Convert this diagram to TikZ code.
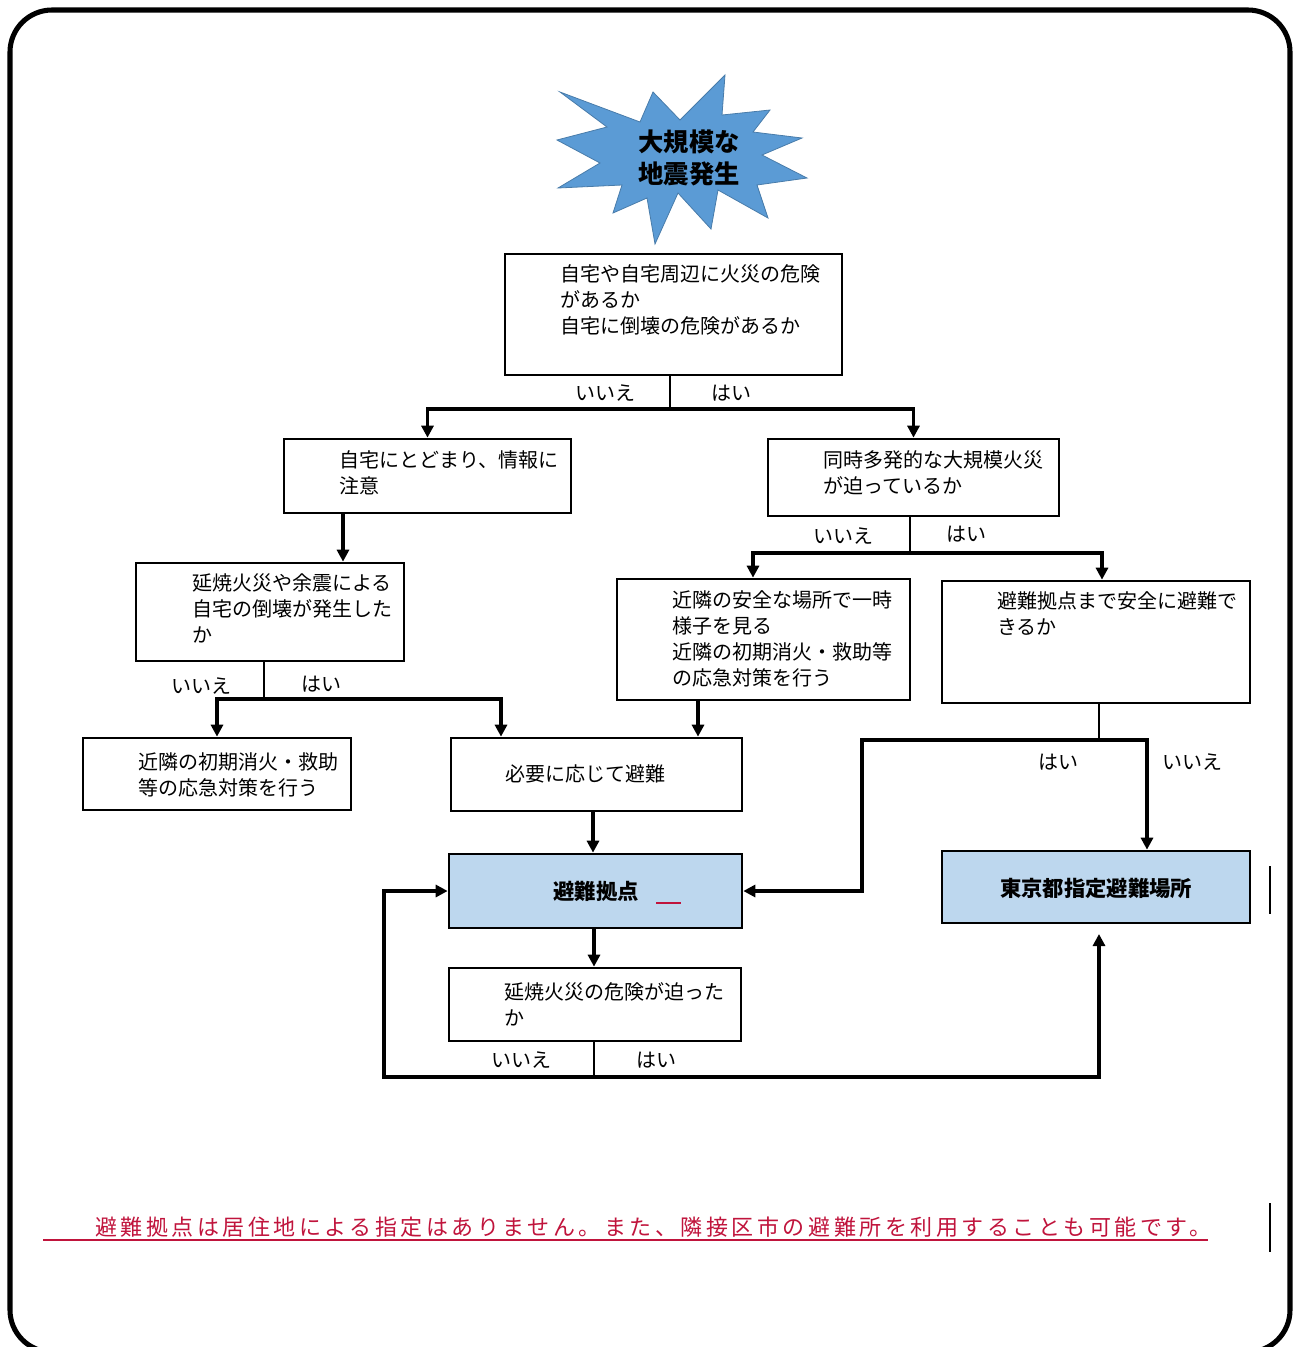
\documentclass[tikz,border=0pt]{standalone}
\usepackage{fontspec}
\setmainfont{Noto Sans CJK JP}
\usetikzlibrary{arrows.meta,fit,calc}
\definecolor{starblue}{HTML}{5B9BD5}
\definecolor{boxblue}{HTML}{BDD7EE}
\definecolor{noteRed}{HTML}{C0143C}
\begin{document}
\begin{tikzpicture}[x=0.75pt,y=-0.75pt,
 frame/.style={draw, line width=2pt, inner sep=0pt},
 bluebox/.style={frame, fill=boxblue},
 txt/.style={anchor=north west, inner sep=0pt, align=left, font=\fontsize{15}{19.5}\selectfont},
 lbl/.style={inner sep=0pt, font=\fontsize{15}{18}\selectfont},
 boldtxt/.style={inner sep=0pt, font=\fontsize{16}{20}\selectfont\bfseries},
 link/.style={line width=1.6pt},
 arr/.style={line width=2.6pt, -{Triangle[length=9pt,width=9pt]}},
]
\useasboundingbox (0,0) rectangle (1300,1347);
\begin{scope}
\clip (0,0) rectangle (1300,1347);
\draw[line width=3.8pt, rounded corners=31.5pt] (10,10) rectangle (1290,1352);
\end{scope}

% star
\draw[fill=starblue, draw=starblue!80!black, line width=0.6pt]
 (560,92) -- (640,122) -- (653,92) -- (680,120) -- (725,75) -- (722,115) -- (770,110) -- (753,132)
 -- (802,138) -- (762,155) -- (807,178) -- (757,185) -- (768,218) -- (718,190) -- (711,229)
 -- (678,193) -- (655,244) -- (647,198) -- (613,213) -- (622,185) -- (558,188) -- (600,163)
 -- (557,140) -- (607,127) -- cycle;
\node[inner sep=0pt, align=center, font=\fontsize{19}{24}\selectfont\bfseries] (startxt) at (689,158) {大規模な\\地震発生};

% boxes
\node[frame, fit={(505,254)(842,375)}] (b1) {};
\node[txt] (t1) at (560,264) {自宅や自宅周辺に火災の危険\\があるか\\自宅に倒壊の危険があるか};
\node[frame, fit={(284,439)(571,513)}] (b2) {};
\node[txt] (t2) at (339,450) {自宅にとどまり、情報に\\注意};
\node[frame, fit={(136,563)(404,661)}] (b3) {};
\node[txt] (t3) at (192,573) {延焼火災や余震による\\自宅の倒壊が発生した\\か};
\node[frame, fit={(83,738)(351,810)}] (b5) {};
\node[txt] (t5) at (138,752) {近隣の初期消火・救助\\等の応急対策を行う};
\node[frame, fit={(451,738)(742,811)}] (b6) {};
\node[txt, anchor=west] (t6) at (505,774) {必要に応じて避難};
\node[bluebox, fit={(449,854)(742,928)}] (b7) {};
\node[boldtxt] (t7) at (596,891) {避難拠点};
\node[frame, fit={(449,968)(741,1041)}] (b8) {};
\node[txt] (t8) at (504,982) {延焼火災の危険が迫った\\か};
\node[frame, fit={(768,439)(1059,516)}] (b4) {};
\node[txt] (t4) at (823,450) {同時多発的な大規模火災\\が迫っているか};
\node[frame, fit={(617,579)(910,700)}] (b4a) {};
\node[txt] (t4a) at (672,590) {近隣の安全な場所で一時\\様子を見る\\近隣の初期消火・救助等\\の応急対策を行う};
\node[frame, fit={(942,581)(1250,703)}] (b4b) {};
\node[txt] (t4b) at (997,591) {避難拠点まで安全に避難で\\きるか};
\node[bluebox, fit={(942,851)(1250,923)}] (b9) {};
\node[boldtxt] (t9) at (1096,888) {東京都指定避難場所};

% coordinates
\coordinate (j1) at (670,409);
\coordinate (x2) at (343,0);
\coordinate (j3) at (264,699);
\coordinate (x6) at (501,0);
\coordinate (x7) at (593,0);
\coordinate (x8) at (594,0);
\coordinate (j8) at (594,1077);
\coordinate (c8l) at (384,1077);
\coordinate (e9) at (1099,934);
\coordinate (j4) at (910,553);
\coordinate (xa) at (753,0);
\coordinate (xb) at (1102,0);
\coordinate (x6b) at (698,0);
\coordinate (j9) at (1099,740);
\coordinate (c9l) at (862,740);
\coordinate (x9) at (1147,0);

% connectors
\draw[link] (b1.south -| j1) -- (j1);
\draw[arr] (j1) -| (b2.north);
\draw[arr] (j1) -| (b4.north);
\node[lbl] (n1) at (605,393) {いいえ};
\node[lbl] (y1) at (731,393) {はい};

\draw[arr] (b2.south -| x2) -- (b3.north -| x2);

\draw[link] (b3.south -| j3) -- (j3);
\draw[arr] (j3) -| (b5.north);
\draw[arr] (j3) -| (b6.north -| x6);
\node[lbl] (n3) at (201,686) {いいえ};
\node[lbl] (y3) at (321,684) {はい};

\draw[arr] (b6.south -| x7) -- (b7.north -| x7);
\draw[noteRed, line width=1.5pt] (656,903) -- (681,903);
\draw[arr] (b7.south -| x8) -- (b8.north -| x8);

\draw[link] (b8.south -| j8) -- (j8);
\draw[arr] (j8) -- (c8l) |- (b7.west);
\draw[arr] (j8) -| (e9);
\node[lbl] (n8) at (521,1060) {いいえ};
\node[lbl] (y8) at (656,1060) {はい};

\draw[link] (b4.south -| j4) -- (j4);
\draw[arr] (j4) -| (b4a.north -| xa);
\draw[arr] (j4) -| (b4b.north -| xb);
\node[lbl] (n4) at (843,536) {いいえ};
\node[lbl] (y4) at (966,534) {はい};

\draw[arr] (b4a.south -| x6b) -- (b6.north -| x6b);

\draw[link] (b4b.south -| j9) -- (j9);
\draw[arr] (j9) -- (c9l) |- (b7.east);
\draw[arr] (j9) -| (b9.north -| x9);
\node[lbl] (y9) at (1058,762) {はい};
\node[lbl] (n9) at (1192,762) {いいえ};

% side bars
\coordinate (s1a) at (1270,866); \coordinate (s1b) at (1270,914);
\coordinate (s2a) at (1270,1203); \coordinate (s2b) at (1270,1252);
\draw[line width=1.5pt] (s1a) -- (s1b);
\draw[line width=1.5pt] (s2a) -- (s2b);

% note
\node[anchor=west, inner sep=0pt, text=noteRed, font=\fontsize{16.5}{20}\selectfont\addfontfeature{LetterSpace=16}] (note) at (95,1227) {避難拠点は居住地による指定はありません。また、隣接区市の避難所を利用することも可能です。};
\coordinate (ul1) at (43,1240); \coordinate (ul2) at (1208,1240);
\draw[noteRed, line width=2.2pt] (ul1) -- (ul2);
\end{tikzpicture}
\end{document}
